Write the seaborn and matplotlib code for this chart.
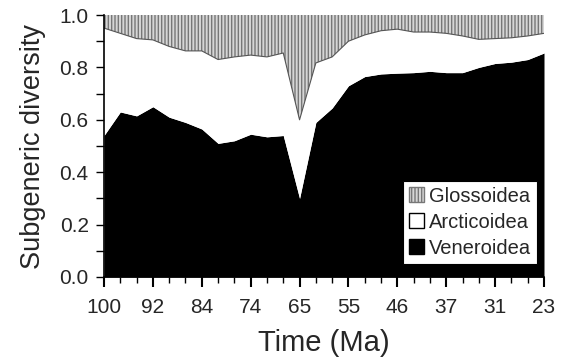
import numpy as np
import matplotlib
matplotlib.use("Agg")
import matplotlib.pyplot as plt
import seaborn as sns
from matplotlib.patches import Patch
from matplotlib.ticker import FixedLocator

# ---- data (proportions per time bin) ----
time_labels = ["100", "92", "84", "74", "65", "55", "46", "37", "31", "23"]
veneroidea = [0.54, 0.63, 0.615, 0.65, 0.61, 0.59, 0.565, 0.51, 0.52, 0.545,
              0.535, 0.54, 0.30, 0.59, 0.645, 0.73, 0.765, 0.775, 0.778, 0.78,
              0.785, 0.78, 0.78, 0.80, 0.815, 0.82, 0.83, 0.855]
arcticoidea = [0.41, 0.30, 0.295, 0.255, 0.27, 0.273, 0.298, 0.32, 0.32, 0.302,
               0.305, 0.315, 0.30, 0.227, 0.195, 0.17, 0.159, 0.165, 0.168, 0.155,
               0.15, 0.15, 0.14, 0.107, 0.095, 0.093, 0.09, 0.075]
glossoidea = [0.05, 0.07, 0.09, 0.095, 0.12, 0.137, 0.137, 0.17, 0.16, 0.153,
              0.16, 0.145, 0.40, 0.183, 0.16, 0.10, 0.076, 0.06, 0.054, 0.065,
              0.065, 0.07, 0.08, 0.093, 0.09, 0.087, 0.08, 0.07]
y_tick_labels = ["0.0", "0.2", "0.4", "0.6", "0.8", "1.0"]
series_names = ["Veneroidea", "Arcticoidea", "Glossoidea"]

sns.set_style("ticks")
plt.rcParams['font.family'] = ['Liberation Sans', 'DejaVu Sans']
plt.rcParams['hatch.linewidth'] = 1.0

fig = plt.figure(figsize=(5.66, 3.63), dpi=100)
ax = fig.add_axes([104/566, 1-277/363, (544-104)/566, (277-15)/363])

x = np.arange(len(veneroidea))
polys = ax.stackplot(x, veneroidea, arcticoidea, glossoidea,
                     colors=["black", "white", "#d6d6d6"], linewidth=0)
polys[2].set_hatch("|||||")
polys[2].set_edgecolor("#777777")
top_white = np.array(veneroidea) + np.array(arcticoidea)
ax.plot(x, top_white, color="#555555", lw=0.8)

ax.set_xlim(0, len(x) - 1)
ax.set_ylim(0, 1.0)
ax.xaxis.set_major_locator(FixedLocator(np.arange(0, len(x), 3)))
ax.xaxis.set_minor_locator(FixedLocator(np.arange(0, len(x))))
ax.set_xticklabels(time_labels)
ax.yaxis.set_major_locator(FixedLocator([0, 0.2, 0.4, 0.6, 0.8, 1.0]))
ax.yaxis.set_minor_locator(FixedLocator([0.1, 0.3, 0.5, 0.7, 0.9]))
ax.set_yticklabels(y_tick_labels)

ax.tick_params(axis="x", which="major", length=7, width=1.5, direction="out",
               labelsize=15, pad=8, color="black")
ax.tick_params(axis="x", which="minor", length=4, width=1, direction="out", color="black")
ax.tick_params(axis="y", which="major", length=6, width=1, direction="out",
               labelsize=15, pad=5, color="black")
ax.tick_params(axis="y", which="minor", length=6, width=1, direction="out", color="black")

for s in ["top", "right"]:
    ax.spines[s].set_visible(False)
for s in ["left", "bottom"]:
    ax.spines[s].set_color("black")
    ax.spines[s].set_linewidth(1.2)

ax.set_xlabel("Time (Ma)", fontsize=21, labelpad=9)
ax.set_ylabel("Subgeneric diversity", fontsize=19.5, labelpad=10)

handles = [Patch(facecolor="#d6d6d6", edgecolor="#777777", hatch="|||||", label="Glossoidea"),
           Patch(facecolor="white", edgecolor="black", label="Arcticoidea"),
           Patch(facecolor="black", edgecolor="black", label="Veneroidea")]
leg = ax.legend(handles=handles, loc="lower right", bbox_to_anchor=(0.985, 0.05),
                fontsize=14.5, frameon=True, fancybox=False, framealpha=1,
                edgecolor="black", handlelength=0.75, handleheight=0.75,
                handletextpad=0.25, borderpad=0.3, labelspacing=0.35,
                borderaxespad=0)
leg.get_frame().set_linewidth(0.8)

fig.savefig("out.png", dpi=100)
